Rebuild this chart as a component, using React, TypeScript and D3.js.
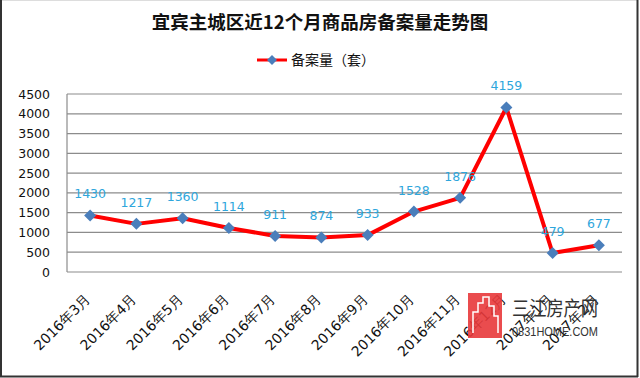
import React from "react";
import * as d3 from "d3";

const categories = ["2016年3月", "2016年4月", "2016年5月", "2016年6月", "2016年7月", "2016年8月", "2016年9月", "2016年10月", "2016年11月", "2016年12月", "2017年1月", "2017年2月"];
const values = [1430, 1217, 1360, 1114, 911, 874, 933, 1528, 1876, 4159, 479, 677];
const yTicks = [0, 500, 1000, 1500, 2000, 2500, 3000, 3500, 4000, 4500];
const title = "宜宾主城区近12个月商品房备案量走势图";
const seriesName = "备案量（套）";

const W = 640, H = 378;
const plot = { left: 67, right: 622, top: 94, bottom: 272 };

export default function App() {
  const x = d3.scaleBand<string>().domain(categories).range([plot.left, plot.right]);
  const y = d3.scaleLinear().domain([0, 4500]).range([plot.bottom, plot.top]);
  const cx = (c: string) => (x(c) as number) + x.bandwidth() / 2;
  const line = d3.line<number>().x((_, i) => cx(categories[i])).y((v) => y(v));
  const diamond = (px: number, py: number, r: number) => `M${px},${py - r}L${px + r},${py}L${px},${py + r}L${px - r},${py}Z`;
  const num = "'DejaVu Sans', Verdana, sans-serif";
  const cjk = "'Noto Sans CJK SC', 'DejaVu Sans', sans-serif";

  return (
    <div style={{ position: "fixed", left: 0, top: 0 }}>
      <svg width={W} height={H} style={{ display: "block", background: "#fff" }}>
        <rect x={0} y={0} width={W} height={H} fill="#fff" />
        <line x1={1} y1={0.5} x2={638} y2={0.5} stroke="#ddd" strokeWidth={1} />
        <line x1={1} y1={0} x2={1} y2={377} stroke="#333" strokeWidth={2} />
        <line x1={637.5} y1={0} x2={637.5} y2={377} stroke="#333" strokeWidth={2} />
        <line x1={0} y1={376.5} x2={638} y2={376.5} stroke="#333" strokeWidth={2} />

        <text x={320} y={29} textAnchor="middle" fontSize={18.5} fontWeight="bold" fontFamily={cjk} fill="#111">{title}</text>

        <g>
          <line x1={257} y1={60} x2={287} y2={60} stroke="#ff0000" strokeWidth={3} />
          <path d={diamond(272, 60, 5)} fill="#4a7ebb" />
          <text x={291} y={65} fontSize={14} fontFamily={cjk} fill="#111">{seriesName}</text>
        </g>

        {yTicks.map((t) => (
          <g key={t}>
            <line x1={plot.left} x2={plot.right} y1={y(t)} y2={y(t)} stroke="#8c8c8c" strokeWidth={1.2} />
            <text x={50} y={y(t) + 4.5} textAnchor="end" fontSize={12.5} fontFamily={num} fill="#111">{t}</text>
          </g>
        ))}
        <line x1={plot.left} x2={plot.left} y1={plot.top} y2={plot.bottom} stroke="#8c8c8c" strokeWidth={1.2} />

        {categories.map((c) => (
          <text key={c} transform={`translate(${cx(c) + 1},${300}) rotate(-45)`} textAnchor="end" fontSize={14} fontFamily={num} fill="#111">{c}</text>
        ))}

        <path d={line(values) || ""} fill="none" stroke="#ff0000" strokeWidth={4} strokeLinejoin="round" />
        {values.map((v, i) => (
          <path key={i} d={diamond(cx(categories[i]), y(v), 6)} fill="#4a7ebb" />
        ))}
        {values.map((v, i) => (
          <text key={i} x={cx(categories[i])} y={y(v) - 17} textAnchor="middle" fontSize={12.5} fontFamily={num} fill="#2ea6dc">{v}</text>
        ))}

        <g>
          <rect x={468} y={293} width={34} height={45} fill="#e8393b" opacity={0.9} />
          <path d="M473,333 L473,312 L478,312 L478,303 L483,303 L483,297 L489,297 L489,306 L494,306 L494,316 L498,316 L498,333" fill="none" stroke="#fff" strokeWidth={1.5} />
          <text x={512} y={316} fontSize={20} fontFamily={cjk} fill="#333" textLength={86} lengthAdjust="spacingAndGlyphs">三江房产网</text>
          <text x={512} y={336} fontSize={13} fontFamily="'Liberation Sans Narrow', 'Liberation Sans', sans-serif" fill="#333" textLength={86} lengthAdjust="spacingAndGlyphs">0831HOME.COM</text>
        </g>
      </svg>
    </div>
  );
}
